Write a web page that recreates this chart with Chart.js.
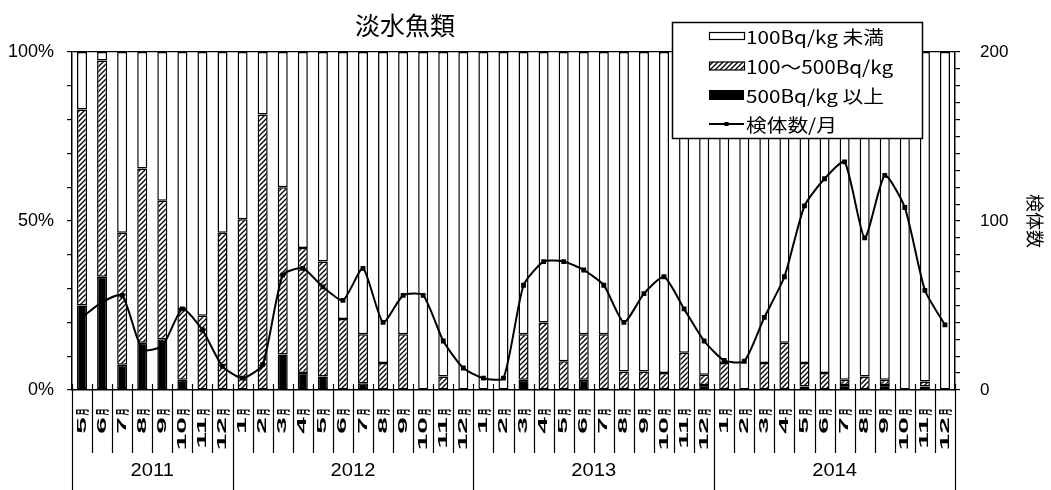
<!DOCTYPE html>
<html>
<head>
<meta charset="utf-8">
<script src="https://cdn.jsdelivr.net/npm/chart.js@4"></script>
<style>
  body { margin: 0; background: #fff; }
</style>
</head>
<body>
<canvas id="fishChart" width="1051" height="490"></canvas>
<script>
const title = '淡水魚類'
const seriesNames = ['100Bq/kg 未満', '100～500Bq/kg', '500Bq/kg 以上', '検体数/月']
const years = ['2011', '2012', '2013', '2014']
const monthLabels = [
  '5月', '6月', '7月', '8月', '9月', '10月', '11月', '12月',
  '1月', '2月', '3月', '4月', '5月', '6月', '7月', '8月', '9月', '10月', '11月', '12月',
  '1月', '2月', '3月', '4月', '5月', '6月', '7月', '8月', '9月', '10月', '11月', '12月',
  '1月', '2月', '3月', '4月', '5月', '6月', '7月', '8月', '9月', '10月', '11月', '12月'
]

// percent of samples per month
const over500 = [25, 33.5, 7.5, 14, 15, 3, 0, 0,
  0, 0, 10.5, 5, 4, 0, 2, 0, 0, 0, 0, 0,
  0, 0, 3, 0, 0, 3, 0, 0, 0, 0, 0, 1.5,
  0, 0, 0, 0, 1, 0, 1.5, 0, 1.5, 0, 1, 0]
const from100to500 = [58, 64, 39, 51.5, 41, 21, 22, 46.5,
  50.5, 81.5, 49.5, 37, 34, 21, 14.5, 8, 16.5, 0, 4, 0,
  0, 0, 13.5, 20, 8.5, 13.5, 16.5, 5.5, 5.5, 5, 11, 3,
  8, 0, 8, 14, 7, 5, 1.5, 4, 1.5, 0, 1.5, 0]
const under100 = [17, 2.5, 53.5, 34.5, 44, 76, 78, 53.5,
  49.5, 18.5, 40, 58, 62, 79, 83.5, 92, 83.5, 100, 96, 100,
  100, 100, 83.5, 80, 91.5, 83.5, 83.5, 94.5, 94.5, 95, 89, 95.5,
  92, 100, 92, 86, 92, 95, 97, 96, 97, 100, 97.5, 100]
// samples per month (right axis)
const samples = [43, 52, 56, 24, 26, 48, 35.5, 14,
  7, 15, 68, 72, 61, 53, 72, 40, 56, 56, 29, 13,
  7, 7, 62, 76, 76, 71, 62, 40, 57, 67, 48, 29,
  17.5, 17, 43, 67, 109, 125, 135, 90, 127, 108, 59, 38.5]

const latin = '"Liberation Sans", Arial, sans-serif'
const cjk = '"Noto Sans CJK JP", "Liberation Sans", sans-serif'

const canvas = document.getElementById('fishChart')
const ctx = canvas.getContext('2d')

function makeHatch() {
  const c = document.createElement('canvas')
  c.width = 5
  c.height = 5
  const g = c.getContext('2d')
  g.fillStyle = '#fff'
  g.fillRect(0, 0, 5, 5)
  g.strokeStyle = '#000'
  g.lineWidth = 1.3
  g.beginPath()
  g.moveTo(0, 5); g.lineTo(5, 0)
  g.moveTo(-1, 1); g.lineTo(1, -1)
  g.moveTo(4, 6); g.lineTo(6, 4)
  g.stroke()
  return ctx.createPattern(c, 'repeat')
}
const hatch = makeHatch()

function stretchText(g, s, x, y, sx, align) {
  g.save()
  g.translate(x, y)
  g.scale(sx, 1)
  g.textAlign = align
  g.fillText(s, 0, 0)
  g.restore()
}

// month / year table under the plot, title and legend box
const extras = {
  id: 'extras',
  afterDraw(chart) {
    const g = chart.ctx
    const a = chart.chartArea
    const x = chart.scales.x
    const w = x.getPixelForValue(1) - x.getPixelForValue(0)
    const n = monthLabels.length
    const yearEdges = [0]
    monthLabels.forEach((m, i) => { if (i > 0 && m === '1月') yearEdges.push(i) })
    yearEdges.push(n)

    g.save()
    g.strokeStyle = '#000'
    g.fillStyle = '#000'
    g.lineWidth = 1.2
    for (let k = 0; k <= n; k++) {
      const px = Math.round(x.getPixelForValue(k) - w / 2) + 0.5
      g.beginPath()
      g.moveTo(px, a.bottom - 6)
      g.lineTo(px, yearEdges.includes(k) ? 490 : a.bottom + 63)
      g.stroke()
    }
    g.textBaseline = 'middle'
    monthLabels.forEach((m, i) => {
      const cx = x.getPixelForValue(i)
      g.save()
      g.translate(cx, a.bottom + 22)
      g.rotate(-Math.PI / 2)
      g.scale(0.5, 1)
      g.font = 'bold 14px ' + cjk
      g.textAlign = 'center'
      g.fillText('月', 0, 0)
      g.restore()
      g.save()
      g.translate(cx, a.bottom + 27)
      g.rotate(-Math.PI / 2)
      g.scale(2.3, 1)
      g.font = 'bold 13px ' + latin
      g.textAlign = 'right'
      g.fillText(m.replace('月', ''), 0, 0)
      g.restore()
    })
    g.font = '18px ' + latin
    years.forEach((yr, j) => {
      const x0 = x.getPixelForValue(yearEdges[j]) - w / 2
      const x1 = x.getPixelForValue(yearEdges[j + 1]) - w / 2
      stretchText(g, yr, (x0 + x1) / 2, 471, 1.12, 'center')
    })

    g.font = '25px ' + cjk
    g.textAlign = 'center'
    g.fillText(title, 405, 25)

    // legend
    const lx = 672, ly = 22, lw = 250, lh = 116
    g.fillStyle = '#fff'
    g.fillRect(lx, ly, lw, lh)
    g.lineWidth = 1.5
    g.strokeRect(lx + 0.5, ly + 0.5, lw, lh)
    const rows = [36, 66, 95, 124]
    const sx0 = 709, sw = 35
    g.lineWidth = 1.2
    g.fillStyle = '#fff'
    g.fillRect(sx0, rows[0] - 3.5, sw, 7)
    g.strokeRect(sx0 + 0.5, rows[0] - 3.5, sw, 7)
    g.fillStyle = hatch
    g.fillRect(sx0, rows[1] - 4, sw, 8)
    g.strokeRect(sx0 + 0.5, rows[1] - 4, sw, 8)
    g.fillStyle = '#000'
    g.fillRect(sx0, rows[2] - 5, sw, 10)
    g.lineWidth = 1.8
    g.beginPath()
    g.moveTo(sx0, rows[3]); g.lineTo(sx0 + sw, rows[3])
    g.stroke()
    g.fillRect(sx0 + sw / 2 - 2, rows[3] - 2, 4, 4)
    g.font = '18px ' + cjk
    seriesNames.forEach((s, i) => stretchText(g, s, 746, rows[i] + 1, 1.15, 'left'))
    g.restore()
  }
}

new Chart(ctx, {
  data: {
    labels: monthLabels,
    datasets: [
      { type: 'bar', label: seriesNames[2], data: over500, backgroundColor: '#000', borderColor: '#000',
        borderWidth: 1.5, borderSkipped: false, yAxisID: 'y', order: 1 },
      { type: 'bar', label: seriesNames[1], data: from100to500, backgroundColor: hatch, borderColor: '#000',
        borderWidth: 1.5, borderSkipped: false, yAxisID: 'y', order: 1 },
      { type: 'bar', label: seriesNames[0], data: under100, backgroundColor: '#fff', borderColor: '#000',
        borderWidth: 1.5, borderSkipped: false, yAxisID: 'y', order: 1 },
      { type: 'line', label: seriesNames[3], data: samples, yAxisID: 'y2', order: 0,
        borderColor: '#000', borderWidth: 2, tension: 0.2, pointRadius: 2, pointStyle: 'rect',
        pointBackgroundColor: '#000', pointBorderColor: '#000' }
    ]
  },
  options: {
    responsive: false,
    animation: false,
    devicePixelRatio: 1,
    layout: { padding: { top: 52, left: 0, right: 0, bottom: 0 } },
    datasets: { bar: { barPercentage: 0.5, categoryPercentage: 1 } },
    plugins: { legend: { display: false }, title: { display: false }, tooltip: { enabled: false } },
    scales: {
      x: {
        stacked: true,
        offset: true,
        grid: { display: false },
        ticks: { display: false },
        border: { color: '#000', width: 1.5 },
        afterFit: s => { s.height = 100 }
      },
      y: {
        stacked: true,
        position: 'left',
        min: 0,
        max: 100,
        ticks: {
          stepSize: 10, autoSkip: false, padding: 13, color: '#000',
          font: { family: latin, size: 18 },
          callback: v => v % 50 === 0 ? v + '%' : ''
        },
        grid: {
          color: c => c.tick && c.tick.value === 100 ? '#000' : 'rgba(0,0,0,0)',
          tickColor: '#000', tickLength: 5, lineWidth: 1.2
        },
        border: { color: '#000', width: 1.5 },
        afterFit: s => { s.width = 72 }
      },
      y2: {
        position: 'right',
        min: 0,
        max: 200,
        ticks: {
          stepSize: 10, autoSkip: false, padding: 20, color: '#000',
          font: { family: latin, size: 17 },
          callback: v => v % 100 === 0 ? v : ''
        },
        grid: { drawOnChartArea: false, color: '#000', tickLength: 5, lineWidth: 1.2 },
        border: { color: '#000', width: 1.5 },
        title: { display: true, text: '検体数', color: '#000', font: { family: cjk, size: 18 }, padding: { top: 5, bottom: 0 } },
        afterFit: s => { s.width = 96 }
      }
    }
  },
  plugins: [extras]
})
</script>
</body>
</html>
